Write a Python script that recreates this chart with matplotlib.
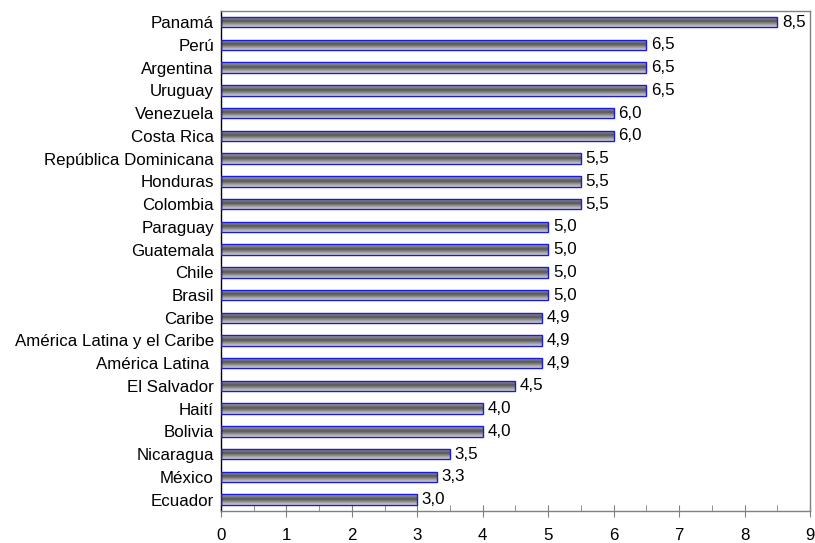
import matplotlib
matplotlib.use("Agg")
import matplotlib.pyplot as plt
import numpy as np
from matplotlib.colors import LinearSegmentedColormap
from matplotlib.ticker import MultipleLocator

plt.rcParams["font.family"] = ["Liberation Sans", "DejaVu Sans"]

countries = ["Panamá", "Perú", "Argentina", "Uruguay", "Venezuela", "Costa Rica",
             "República Dominicana", "Honduras", "Colombia", "Paraguay", "Guatemala",
             "Chile", "Brasil", "Caribe", "América Latina y el Caribe", "América Latina ",
             "El Salvador", "Haití", "Bolivia", "Nicaragua", "México", "Ecuador"]
values = [8.5, 6.5, 6.5, 6.5, 6.0, 6.0, 5.5, 5.5, 5.5, 5.0, 5.0, 5.0, 5.0,
          4.9, 4.9, 4.9, 4.5, 4.0, 4.0, 3.5, 3.3, 3.0]
x_ticks = list(range(0, 10))

FS = 12.2

fig = plt.figure(figsize=(8.15, 5.43), dpi=100)
ax = fig.add_axes([0.271, 0.059, 0.723, 0.921])

n = len(countries)
ypos = np.arange(n)
bar_h = 0.46

bars = ax.barh(ypos, values, height=bar_h, facecolor="none",
               edgecolor="#1a1ae0", linewidth=1.0, zorder=3)

cmap = LinearSegmentedColormap.from_list(
    "cyl", [(0.0, "#ababab"), (0.45, "#555555"), (1.0, "#d6d6d6")])
grad = np.linspace(0, 1, 64).reshape(-1, 1)
for rect, yc, v in zip(bars, ypos, values):
    im = ax.imshow(grad, cmap=cmap, aspect="auto", interpolation="bilinear",
                   extent=[0, v, yc + bar_h / 2, yc - bar_h / 2], zorder=2)
    im.set_clip_path(rect)
    ax.text(v + 0.07, yc, f"{v:.1f}".replace(".", ","), va="center", ha="left",
            fontsize=FS, color="black", zorder=4)

ax.set_xlim(0, 9)
ax.set_ylim(n - 0.5, -0.5)
ax.set_yticks(ypos)
ax.set_yticklabels(countries, fontsize=FS)
ax.tick_params(axis="y", length=0, pad=5)
ax.set_xticks(x_ticks)
ax.xaxis.set_minor_locator(MultipleLocator(0.5))
ax.tick_params(axis="x", which="major", direction="inout", length=8,
               color="#808080", labelsize=FS, pad=8)
ax.tick_params(axis="x", which="minor", direction="in", length=4, color="#808080")

ax.spines["left"].set_color("black")
for s in ("top", "right", "bottom"):
    ax.spines[s].set_color("#808080")
for s in ax.spines.values():
    s.set_linewidth(1.0)

fig.savefig("out.png", dpi=100)
